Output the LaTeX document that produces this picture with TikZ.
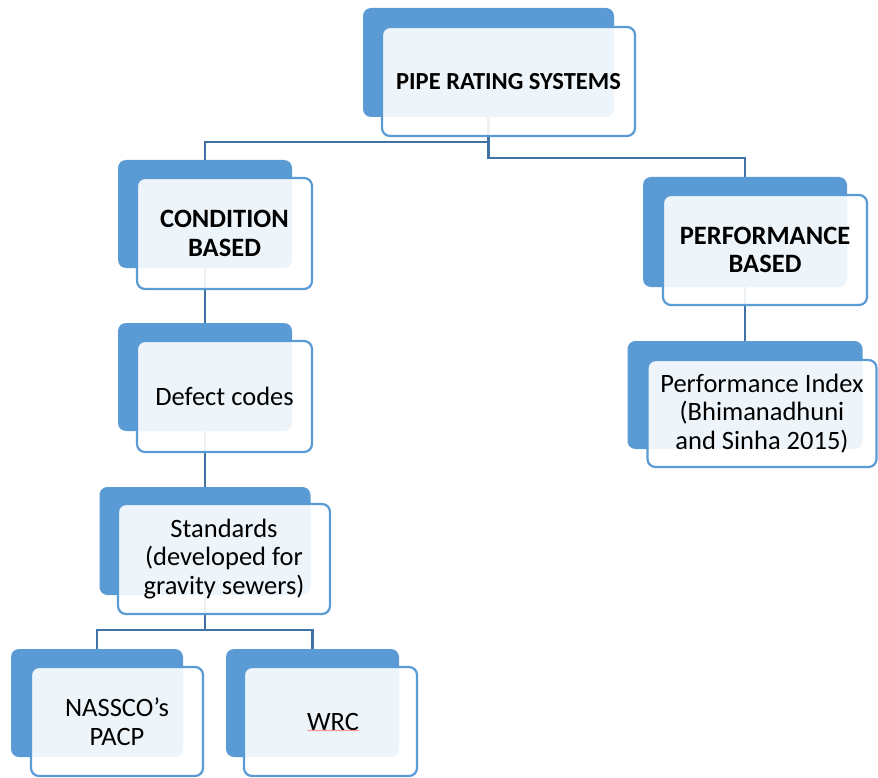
\documentclass[tikz,border=0pt]{standalone}
\usepackage{fontspec}
\setmainfont{Carlito}
\usetikzlibrary{calc,decorations.pathmorphing}
\definecolor{accent}{RGB}{91,155,213}
\definecolor{linkblue}{RGB}{65,113,165}
\begin{document}
\begin{tikzpicture}[x=1pt,y=-1pt,
  backbox/.style={fill=accent, rounded corners=8pt, inner sep=0pt},
  frontbox/.style={draw=accent, line width=2.2pt, fill=white, fill opacity=0.9,
    text opacity=1, rounded corners=8pt, align=center, text=black, inner sep=0pt,
    font=\fontsize{26.5}{28.5}\selectfont},
  link/.style={draw=linkblue, line width=2.4pt},
]
\useasboundingbox (0,0) rectangle (878,778);

% back panels
\node[backbox, minimum width=251pt, minimum height=109pt] (pipe-b)   at (488.5,62.5) {};
\node[backbox, minimum width=174pt, minimum height=108pt] (cond-b)   at (205,214) {};
\node[backbox, minimum width=204pt, minimum height=110pt] (perf-b)   at (745,232) {};
\node[backbox, minimum width=174pt, minimum height=108pt] (defect-b) at (205,377) {};
\node[backbox, minimum width=235pt, minimum height=108pt] (pidx-b)   at (745,395) {};
\node[backbox, minimum width=211pt, minimum height=108pt] (std-b)    at (205,541) {};
\node[backbox, minimum width=172pt, minimum height=108pt] (nassco-b) at (97,703) {};
\node[backbox, minimum width=173pt, minimum height=108pt] (wrc-b)    at (312.5,703) {};

% connectors
\draw[link] (pipe-b.south) -- ++(0,25) -| (cond-b.north);
\draw[link] (pipe-b.south) -- ++(0,41) -| (perf-b.north);
\draw[link] (cond-b.south) -- (defect-b.north);
\draw[link] (defect-b.south) -- (std-b.north);
\draw[link] (perf-b.south) -- (pidx-b.north);
\draw[link] (std-b.south) -- ++(0,35) -| (nassco-b.north);
\draw[link] (std-b.south) -- ++(0,35) -| (wrc-b.north);

% front panels with labels
\node[frontbox, minimum width=253pt, minimum height=109pt,
      font=\fontsize{24.5}{28.5}\selectfont\bfseries] (pipe) at (508.5,81.5) {PIPE RATING SYSTEMS};
\node[frontbox, minimum width=175pt, minimum height=111pt, font=\fontsize{26.5}{28.5}\selectfont\bfseries]
      (cond) at (224.5,233.5) {CONDITION\\BASED};
\node[frontbox, minimum width=204pt, minimum height=110pt, font=\fontsize{26.5}{28.5}\selectfont\bfseries]
      (perf) at (765,250) {PERFORMANCE\\BASED};
\node[frontbox, minimum width=175pt, minimum height=111pt] (defect) at (224.5,396.5) {Defect codes};
\node[frontbox, minimum width=229pt, minimum height=107pt] (pidx) at (762,413.5)
      {Performance Index\\(Bhimanadhuni\\and Sinha 2015)};
\node[frontbox, minimum width=212pt, minimum height=110pt] (std) at (224,559)
      {Standards\\(developed for\\gravity sewers)};
\node[frontbox, minimum width=172pt, minimum height=109pt] (nassco) at (117,721.5) {NASSCO’s\\PACP};
\node[frontbox, minimum width=173pt, minimum height=109pt] (wrc) at (330.5,721.5) {\hspace*{5pt}WRC};

% spelling squiggle under WRC
\draw[red!55, line width=0.6pt, decorate, decoration={snake, amplitude=0.6pt, segment length=3pt}]
  ($(wrc.center)+(-23,9)$) -- ($(wrc.center)+(28,9)$);
\end{tikzpicture}
\end{document}
